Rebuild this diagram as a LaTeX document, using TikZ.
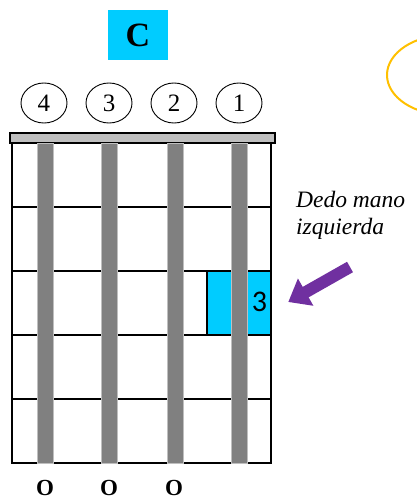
\documentclass[tikz,border=0pt]{standalone}
\usepackage{fontspec}
\setmainfont{Liberation Serif}
\newfontfamily\digitfont{Carlito}
\usetikzlibrary{shapes.geometric,arrows.meta}

\definecolor{chordblue}{HTML}{00CCFF}
\definecolor{fingerpurple}{HTML}{7030A0}
\definecolor{bubbleorange}{HTML}{FFC000}
\definecolor{stringgray}{HTML}{808080}
\definecolor{nutgray}{HTML}{BFBFBF}

\tikzset{
    stringnum/.style={draw, ellipse, line width=0.9pt, minimum width=46pt, minimum height=40pt, inner sep=0pt, font=\fontsize{25}{25}\selectfont},
    openmark/.style={font=\fontsize{23}{23}\selectfont\bfseries},
    guitarstring/.style={fill=stringgray, draw=nutgray, line width=0.6pt},
    fret/.style={line width=1.6pt},
    fingerarrow/.style={draw=fingerpurple, line width=12pt, -{Triangle[width=30pt,length=20pt]}, shorten >=-2pt}
}

\begin{document}
\begin{tikzpicture}[x=1pt, y=-1pt]
    \useasboundingbox (0,0) rectangle (417,501);

    \draw[bubbleorange, line width=2pt](447,75) ellipse [x radius=60, y radius=40];

    \node[fill=chordblue, minimum width=60pt, minimum height=50pt, inner sep=0pt, font=\fontsize{34}{34}\selectfont\bfseries] (chord) at (138,35) {C};

    \node[stringnum] (s4) at (44,103) {4};
    \node[stringnum] (s3) at (109,103) {3};
    \node[stringnum] (s2) at (174,103) {2};
    \node[stringnum] (s1) at (239,103) {1};

    \draw[fill=nutgray, line width=1.6pt](10,133) rectangle (275,143);

    \draw[fret](12,143)--(12,463)--(271,463)--(271,143);
    \draw[fret](12,207)--(271,207);
    \draw[fret](12,271)--(271,271);
    \draw[fret](12,335)--(271,335);
    \draw[fret](12,399)--(271,399);

    \draw[fill=chordblue, line width=1.6pt](207,271) rectangle (271,335);

    \draw[guitarstring](37,143) rectangle (53,463);
    \draw[guitarstring](101.5,143) rectangle (117.5,463);
    \draw[guitarstring](167,143) rectangle (183,463);
    \draw[guitarstring](231.5,143) rectangle (247.5,463);

    \node[font=\fontsize{30}{30}\digitfont] (finger) at (259.5,302) {3};

    \node[anchor=north west, align=left, inner sep=0pt, font=\fontsize{23.5}{27}\selectfont\itshape] (hand) at (296,191) {Dedo mano\\izquierda};

    \coordinate (tail) at (350,267);
    \coordinate (tip) at (290,301);
    \draw[fingerarrow](tail)--(tip);

    \node[openmark] (o4) at (45,488) {O};
    \node[openmark] (o3) at (109,488) {O};
    \node[openmark] (o2) at (174,488) {O};
\end{tikzpicture}
\end{document}
